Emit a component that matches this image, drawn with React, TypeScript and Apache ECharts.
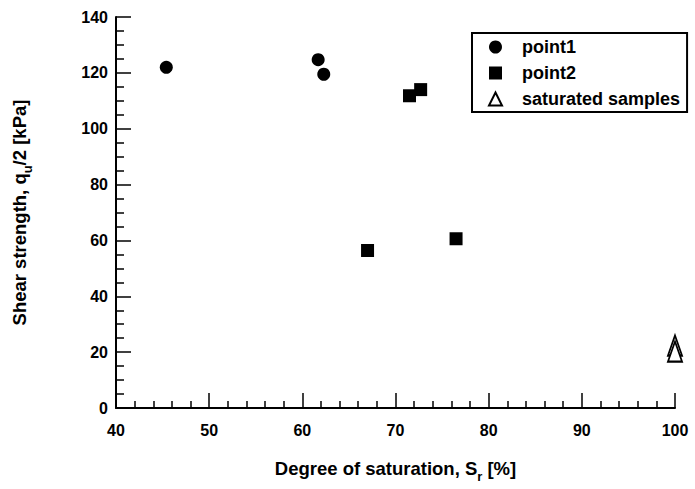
import React, { useEffect, useRef } from "react";
import * as echarts from "echarts";

const point1: [number, number][] = [
  [45.4, 122],
  [61.7, 124.7],
  [62.3, 119.5],
];
const point2: [number, number][] = [
  [71.5, 111.8],
  [72.7, 114],
  [67.0, 56.4],
  [76.5, 60.6],
];
const saturated: [number, number][] = [
  [100, 22.4],
  [100, 20.2],
];
const seriesNames = ["point1", "point2", "saturated samples"];
const xName = "Degree of saturation, S{sub|r} [%]";
const yName = "Shear strength, q{sub|u}/2 [kPa]";

const FONT = "'Liberation Sans', Arial, Helvetica, sans-serif";

export default function App() {
  const ref = useRef<HTMLDivElement>(null);
  useEffect(() => {
    if (!ref.current) return;
    const chart = echarts.init(ref.current, null, { renderer: "svg" });
    const nameStyle = {
      fontSize: 18.5,
      fontWeight: "bold" as const,
      color: "#000",
      fontFamily: FONT,
      rich: {
        sub: {
          fontSize: 13,
          fontWeight: "bold" as const,
          color: "#000",
          fontFamily: FONT,
          padding: [16, 0, 0, 0],
        },
      },
    };
    const axisCommon = {
      axisLine: { show: true, onZero: false, lineStyle: { color: "#000", width: 2 } },
      axisTick: { show: true, inside: true, length: 15, lineStyle: { color: "#000", width: 1.5 } },
      splitLine: { show: false },
      axisLabel: { color: "#000", fontSize: 16, fontWeight: "bold" as const, fontFamily: FONT },
    };
    chart.setOption({
      animation: false,
      backgroundColor: "#fff",
      grid: { left: 116, right: 20, top: 17, bottom: 81, containLabel: false },
      legend: {
        orient: "vertical",
        left: 472,
        top: 33,
        padding: [5, 7, 4, 16],
        itemGap: 8,
        itemWidth: 13,
        itemHeight: 13,
        borderColor: "#000",
        borderWidth: 2,
        backgroundColor: "#fff",
        data: seriesNames,
        textStyle: {
          fontSize: 18,
          fontWeight: "bold",
          color: "#000",
          fontFamily: FONT,
          padding: [0, 0, 0, 15],
        },
      },
      xAxis: {
        type: "value",
        min: 40,
        max: 100,
        interval: 10,
        ...axisCommon,
        axisLabel: { ...axisCommon.axisLabel, margin: 14 },
        minorTick: { show: true, splitNumber: 5, length: 7, lineStyle: { color: "#000", width: 1.5 } },
        name: xName,
        nameLocation: "middle",
        nameGap: 46,
        nameTextStyle: nameStyle,
      },
      yAxis: {
        type: "value",
        min: 0,
        max: 140,
        interval: 20,
        ...axisCommon,
        axisLabel: { ...axisCommon.axisLabel, margin: 8 },
        minorTick: { show: true, splitNumber: 4, length: 8, lineStyle: { color: "#000", width: 1.5 } },
        name: yName,
        nameLocation: "middle",
        nameRotate: 90,
        nameGap: 82,
        nameTextStyle: nameStyle,
      },
      series: [
        {
          name: seriesNames[0],
          type: "scatter",
          data: point1,
          symbol: "circle",
          symbolSize: 13,
          itemStyle: { color: "#000", opacity: 1 },
        },
        {
          name: seriesNames[1],
          type: "scatter",
          data: point2,
          symbol: "rect",
          symbolSize: 13,
          itemStyle: { color: "#000", opacity: 1 },
        },
        {
          name: seriesNames[2],
          type: "scatter",
          data: saturated,
          symbol: "triangle",
          symbolSize: [14, 20],
          itemStyle: { color: "#fff", borderColor: "#000", borderWidth: 2, opacity: 1 },
        },
      ],
    });
    return () => chart.dispose();
  }, []);
  return <div ref={ref} style={{ width: 695, height: 489, position: "absolute", left: 0, top: 0 }} />;
}
